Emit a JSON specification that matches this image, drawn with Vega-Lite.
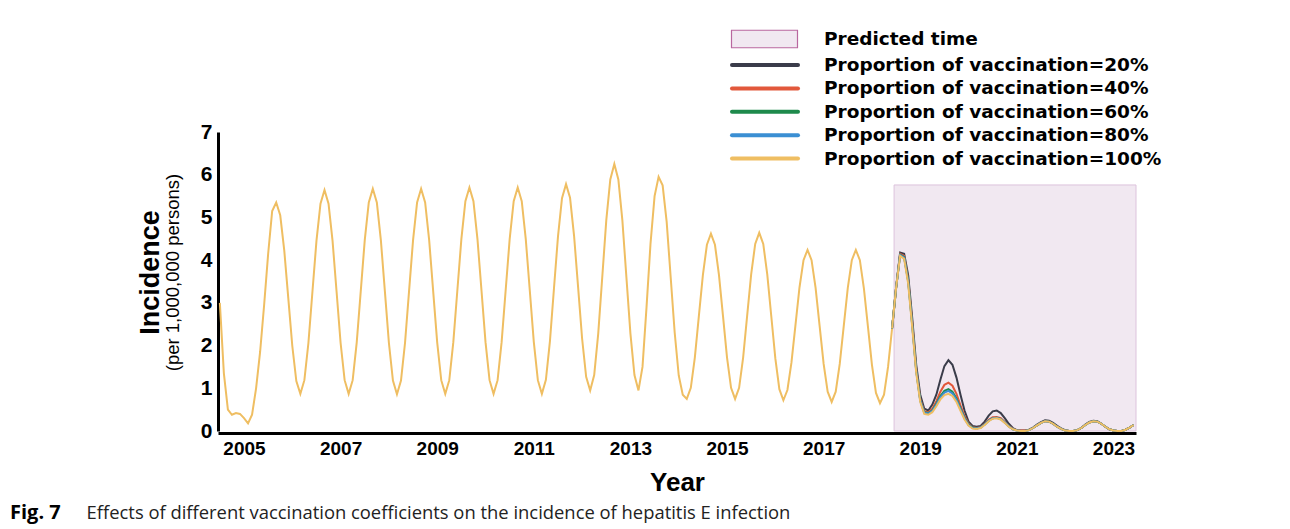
{
 "$schema": "https://vega.github.io/schema/vega-lite/v6.json",
 "width": 918, "height": 299,
 "autosize": {"type": "none"},
 "padding": {"left": 218, "top": 132, "right": 154, "bottom": 98},
 "background": "white",
 "config": {"view": {"stroke": null}, "font": "Liberation Sans"},
 "title": {"text": "Fig. 7", "subtitle": "\u200b\u2003\u2003\u2003\u2003\u2009Effects of different vaccination coefficients on the incidence of hepatitis E infection", "orient": "bottom", "anchor": "start", "frame": "group", "dx": -208, "offset": 8, "font": "Open Sans", "fontWeight": "bold", "fontSize": 20, "color": "black", "subtitleFont": "Open Sans", "subtitleFontSize": 18.4, "subtitleColor": "#222222", "subtitlePadding": -19},
 "datasets": {
  "band": [{"start": 167.5, "end": 227.6, "low": 0, "high": 5.76}],
  "hist": [
   {"i":0,"v":3.0},{"i":1,"v":1.35},{"i":2,"v":0.5},{"i":3,"v":0.38},{"i":4,"v":0.42},{"i":5,"v":0.4},{"i":6,"v":0.3},{"i":7,"v":0.18},{"i":8,"v":0.38},{"i":9,"v":1.0},
   {"i":10,"v":1.85},{"i":11,"v":2.95},{"i":12,"v":4.15},{"i":13,"v":5.15},{"i":14,"v":5.35},{"i":15,"v":5.05},{"i":16,"v":4.23},{"i":17,"v":3.11},{"i":18,"v":1.99},{"i":19,"v":1.17},
   {"i":20,"v":0.87},{"i":21,"v":1.19},{"i":22,"v":2.06},{"i":23,"v":3.26},{"i":24,"v":4.45},{"i":25,"v":5.32},{"i":26,"v":5.64},{"i":27,"v":5.32},{"i":28,"v":4.45},{"i":29,"v":3.26},
   {"i":30,"v":2.06},{"i":31,"v":1.19},{"i":32,"v":0.87},{"i":33,"v":1.19},{"i":34,"v":2.07},{"i":35,"v":3.27},{"i":36,"v":4.47},{"i":37,"v":5.35},{"i":38,"v":5.67},{"i":39,"v":5.35},
   {"i":40,"v":4.47},{"i":41,"v":3.27},{"i":42,"v":2.06},{"i":43,"v":1.18},{"i":44,"v":0.86},{"i":45,"v":1.18},{"i":46,"v":2.06},{"i":47,"v":3.27},{"i":48,"v":4.47},{"i":49,"v":5.35},
   {"i":50,"v":5.67},{"i":51,"v":5.35},{"i":52,"v":4.47},{"i":53,"v":3.27},{"i":54,"v":2.07},{"i":55,"v":1.19},{"i":56,"v":0.87},{"i":57,"v":1.19},{"i":58,"v":2.08},{"i":59,"v":3.29},
   {"i":60,"v":4.49},{"i":61,"v":5.38},{"i":62,"v":5.7},{"i":63,"v":5.38},{"i":64,"v":4.49},{"i":65,"v":3.29},{"i":66,"v":2.08},{"i":67,"v":1.19},{"i":68,"v":0.87},{"i":69,"v":1.19},
   {"i":70,"v":2.08},{"i":71,"v":3.29},{"i":72,"v":4.49},{"i":73,"v":5.38},{"i":74,"v":5.7},{"i":75,"v":5.38},{"i":76,"v":4.49},{"i":77,"v":3.29},{"i":78,"v":2.08},{"i":79,"v":1.19},
   {"i":80,"v":0.87},{"i":81,"v":1.2},{"i":82,"v":2.1},{"i":83,"v":3.33},{"i":84,"v":4.55},{"i":85,"v":5.45},{"i":86,"v":5.78},{"i":87,"v":5.46},{"i":88,"v":4.57},{"i":89,"v":3.37},
   {"i":90,"v":2.16},{"i":91,"v":1.27},{"i":92,"v":0.95},{"i":93,"v":1.31},{"i":94,"v":2.28},{"i":95,"v":3.6},{"i":96,"v":4.93},{"i":97,"v":5.89},{"i":98,"v":6.25},{"i":99,"v":5.89},
   {"i":100,"v":4.93},{"i":101,"v":3.6},{"i":102,"v":2.28},{"i":103,"v":1.31},{"i":104,"v":0.95},{"i":105,"v":1.5},{"i":106,"v":2.9},{"i":107,"v":4.4},{"i":108,"v":5.5},{"i":109,"v":5.95},
   {"i":110,"v":5.75},{"i":111,"v":4.9},{"i":112,"v":3.6},{"i":113,"v":2.3},{"i":114,"v":1.3},{"i":115,"v":0.85},{"i":116,"v":0.75},{"i":117,"v":1.01},{"i":118,"v":1.72},{"i":119,"v":2.69},
   {"i":120,"v":3.65},{"i":121,"v":4.36},{"i":122,"v":4.62},{"i":123,"v":4.36},{"i":124,"v":3.65},{"i":125,"v":2.69},{"i":126,"v":1.72},{"i":127,"v":1.01},{"i":128,"v":0.75},{"i":129,"v":1.01},
   {"i":130,"v":1.72},{"i":131,"v":2.7},{"i":132,"v":3.67},{"i":133,"v":4.38},{"i":134,"v":4.64},{"i":135,"v":4.38},{"i":136,"v":3.66},{"i":137,"v":2.68},{"i":138,"v":1.7},{"i":139,"v":0.98},
   {"i":140,"v":0.72},{"i":141,"v":0.96},{"i":142,"v":1.6},{"i":143,"v":2.48},{"i":144,"v":3.36},{"i":145,"v":4.0},{"i":146,"v":4.24},{"i":147,"v":4.0},{"i":148,"v":3.35},{"i":149,"v":2.46},
   {"i":150,"v":1.57},{"i":151,"v":0.92},{"i":152,"v":0.68},{"i":153,"v":0.92},{"i":154,"v":1.57},{"i":155,"v":2.46},{"i":156,"v":3.35},{"i":157,"v":4.0},{"i":158,"v":4.24},{"i":159,"v":4.0},
   {"i":160,"v":3.34},{"i":161,"v":2.45},{"i":162,"v":1.55},{"i":163,"v":0.89},{"i":164,"v":0.65},{"i":165,"v":0.85},{"i":166,"v":1.5},{"i":167,"v":2.4},{"i":168,"v":3.35}
  ],
  "pred": [
   {"i":167,"p20":2.4,"p40":2.4,"p60":2.4,"p80":2.4,"p100":2.4},
   {"i":168,"p20":3.35,"p40":3.35,"p60":3.35,"p80":3.35,"p100":3.35},
   {"i":169,"p20":4.18,"p40":4.15,"p60":4.13,"p80":4.12,"p100":4.1},
   {"i":170,"p20":4.15,"p40":4.1,"p60":4.07,"p80":4.06,"p100":4.03},
   {"i":171,"p20":3.65,"p40":3.55,"p60":3.52,"p80":3.5,"p100":3.45},
   {"i":172,"p20":2.65,"p40":2.55,"p60":2.5,"p80":2.48,"p100":2.43},
   {"i":173,"p20":1.55,"p40":1.45,"p60":1.42,"p80":1.4,"p100":1.36},
   {"i":174,"p20":0.85,"p40":0.75,"p60":0.72,"p80":0.71,"p100":0.68},
   {"i":175,"p20":0.52,"p40":0.46,"p60":0.44,"p80":0.43,"p100":0.4},
   {"i":176,"p20":0.48,"p40":0.44,"p60":0.42,"p80":0.41,"p100":0.38},
   {"i":177,"p20":0.62,"p40":0.52,"p60":0.48,"p80":0.47,"p100":0.44},
   {"i":178,"p20":0.85,"p40":0.7,"p60":0.64,"p80":0.62,"p100":0.58},
   {"i":179,"p20":1.2,"p40":0.92,"p60":0.82,"p80":0.79,"p100":0.74},
   {"i":180,"p20":1.52,"p40":1.08,"p60":0.94,"p80":0.9,"p100":0.84},
   {"i":181,"p20":1.66,"p40":1.13,"p60":0.98,"p80":0.94,"p100":0.87},
   {"i":182,"p20":1.55,"p40":1.06,"p60":0.92,"p80":0.88,"p100":0.82},
   {"i":183,"p20":1.25,"p40":0.87,"p60":0.76,"p80":0.73,"p100":0.68},
   {"i":184,"p20":0.85,"p40":0.6,"p60":0.53,"p80":0.51,"p100":0.47},
   {"i":185,"p20":0.48,"p40":0.35,"p60":0.31,"p80":0.3,"p100":0.27},
   {"i":186,"p20":0.22,"p40":0.17,"p60":0.15,"p80":0.14,"p100":0.13},
   {"i":187,"p20":0.12,"p40":0.09,"p60":0.08,"p80":0.07,"p100":0.06},
   {"i":188,"p20":0.1,"p40":0.07,"p60":0.06,"p80":0.06,"p100":0.05},
   {"i":189,"p20":0.12,"p40":0.09,"p60":0.08,"p80":0.08,"p100":0.07},
   {"i":190,"p20":0.22,"p40":0.16,"p60":0.15,"p80":0.15,"p100":0.14},
   {"i":191,"p20":0.36,"p40":0.26,"p60":0.24,"p80":0.24,"p100":0.23},
   {"i":192,"p20":0.46,"p40":0.32,"p60":0.3,"p80":0.3,"p100":0.29},
   {"i":193,"p20":0.48,"p40":0.33,"p60":0.31,"p80":0.31,"p100":0.3},
   {"i":194,"p20":0.42,"p40":0.3,"p60":0.28,"p80":0.28,"p100":0.27},
   {"i":195,"p20":0.3,"p40":0.21,"p60":0.2,"p80":0.2,"p100":0.19},
   {"i":196,"p20":0.17,"p40":0.12,"p60":0.11,"p80":0.11,"p100":0.1},
   {"i":197,"p20":0.07,"p40":0.05,"p60":0.04,"p80":0.04,"p100":0.04},
   {"i":198,"p20":0.02,"p40":0.02,"p60":0.01,"p80":0.01,"p100":0.01},
   {"i":199,"p20":0.01,"p40":0.01,"p60":0.0,"p80":0.0,"p100":0.0},
   {"i":200,"p20":0.01,"p40":0.01,"p60":0.0,"p80":0.0,"p100":0.0},
   {"i":201,"p20":0.03,"p40":0.02,"p60":0.02,"p80":0.02,"p100":0.02},
   {"i":202,"p20":0.08,"p40":0.07,"p60":0.07,"p80":0.07,"p100":0.07},
   {"i":203,"p20":0.15,"p40":0.13,"p60":0.13,"p80":0.13,"p100":0.13},
   {"i":204,"p20":0.21,"p40":0.19,"p60":0.19,"p80":0.19,"p100":0.19},
   {"i":205,"p20":0.25,"p40":0.23,"p60":0.23,"p80":0.23,"p100":0.23},
   {"i":206,"p20":0.24,"p40":0.22,"p60":0.22,"p80":0.22,"p100":0.22},
   {"i":207,"p20":0.19,"p40":0.17,"p60":0.17,"p80":0.17,"p100":0.17},
   {"i":208,"p20":0.12,"p40":0.1,"p60":0.1,"p80":0.1,"p100":0.1},
   {"i":209,"p20":0.06,"p40":0.05,"p60":0.05,"p80":0.05,"p100":0.05},
   {"i":210,"p20":0.02,"p40":0.01,"p60":0.01,"p80":0.01,"p100":0.01},
   {"i":211,"p20":0.0,"p40":0.0,"p60":0.0,"p80":0.0,"p100":0.0},
   {"i":212,"p20":0.0,"p40":0.0,"p60":0.0,"p80":0.0,"p100":0.0},
   {"i":213,"p20":0.02,"p40":0.02,"p60":0.02,"p80":0.02,"p100":0.02},
   {"i":214,"p20":0.07,"p40":0.07,"p60":0.07,"p80":0.07,"p100":0.07},
   {"i":215,"p20":0.15,"p40":0.14,"p60":0.14,"p80":0.14,"p100":0.14},
   {"i":216,"p20":0.21,"p40":0.2,"p60":0.2,"p80":0.2,"p100":0.2},
   {"i":217,"p20":0.24,"p40":0.23,"p60":0.23,"p80":0.23,"p100":0.23},
   {"i":218,"p20":0.23,"p40":0.22,"p60":0.22,"p80":0.22,"p100":0.22},
   {"i":219,"p20":0.17,"p40":0.17,"p60":0.17,"p80":0.17,"p100":0.17},
   {"i":220,"p20":0.1,"p40":0.1,"p60":0.1,"p80":0.1,"p100":0.1},
   {"i":221,"p20":0.04,"p40":0.04,"p60":0.04,"p80":0.04,"p100":0.04},
   {"i":222,"p20":0.01,"p40":0.01,"p60":0.01,"p80":0.01,"p100":0.01},
   {"i":223,"p20":0.0,"p40":0.0,"p60":0.0,"p80":0.0,"p100":0.0},
   {"i":224,"p20":0.0,"p40":0.0,"p60":0.0,"p80":0.0,"p100":0.0},
   {"i":225,"p20":0.03,"p40":0.03,"p60":0.03,"p80":0.03,"p100":0.03},
   {"i":226,"p20":0.08,"p40":0.08,"p60":0.08,"p80":0.08,"p100":0.08},
   {"i":227,"p20":0.14,"p40":0.14,"p60":0.14,"p80":0.14,"p100":0.14}
  ]
 },
 "layer": [
  {
   "data": {"name": "band"},
   "mark": {"type": "rect", "stroke": "#dcc3dc", "strokeWidth": 1, "opacity": 1},
   "encoding": {
    "x": {"field": "start", "type": "quantitative", "scale": {"domain": [-0.46, 227.6], "nice": false, "zero": false},
     "axis": {"title": "Year", "values": [6, 30, 54, 78, 102, 126, 150, 174, 198, 222], "labelExpr": "2005 + (datum.value - 6) / 12", "ticks": false, "grid": false, "domainColor": "black", "domainWidth": 3, "offset": 2, "labelFont": "Liberation Sans", "labelFontWeight": "bold", "labelFontSize": 19, "labelColor": "black", "labelPadding": 6, "labelFlush": false, "labelOverlap": false, "titleFont": "Liberation Sans", "titleFontWeight": "bold", "titleFontSize": 26, "titleColor": "black", "titleX": 459, "titleY": 57, "titleAlign": "center", "titleBaseline": "alphabetic"}},
    "x2": {"field": "end"},
    "y": {"field": "low", "type": "quantitative", "scale": {"domain": [0, 7], "nice": false},
     "axis": {"title": "(per 1,000,000 persons)", "values": [0, 1, 2, 3, 4, 5, 6, 7], "ticks": false, "grid": false, "domainColor": "black", "domainWidth": 3, "labelFont": "Liberation Sans", "labelFontWeight": "bold", "labelFontSize": 21, "labelColor": "black", "labelPadding": 6, "titleFont": "Liberation Sans", "titleFontWeight": "normal", "titleFontSize": 18.5, "titleColor": "black", "titleX": -40, "titleY": 140, "titleAngle": 270, "titleAlign": "center", "titleBaseline": "alphabetic"}},
    "y2": {"field": "high"},
    "fill": {"datum": "Predicted time", "type": "nominal", "scale": {"range": ["#f1e8f1"]},
     "legend": {"title": null, "orient": "none", "legendX": 537.25, "legendY": -102.25, "padding": 0, "symbolType": "M-6.6,-1.75H6.6V1.75H-6.6Z", "symbolSize": 100, "symbolStrokeColor": "#b9679f", "symbolStrokeWidth": 1.2, "symbolOpacity": 1, "labelFont": "DejaVu Sans", "labelFontWeight": "bold", "labelFontSize": 18.5, "labelColor": "black", "labelOffset": 50.25, "labelLimit": 600}}
   }
  },
  {
   "data": {"name": "hist"},
   "mark": {"type": "line", "strokeWidth": 2},
   "encoding": {
    "x": {"field": "i", "type": "quantitative"},
    "y": {"field": "v", "type": "quantitative", "axis": null},
    "color": {"datum": "p100", "type": "nominal"}
   }
  },
  {
   "data": {"name": "pred"},
   "transform": [{"fold": ["p20", "p40", "p60", "p80", "p100"], "as": ["s", "v"]}],
   "mark": {"type": "line", "strokeWidth": 2},
   "encoding": {
    "x": {"field": "i", "type": "quantitative"},
    "y": {"field": "v", "type": "quantitative",
     "axis": {"orient": "left", "title": "Incidence", "labels": false, "ticks": false, "domain": false, "grid": false, "titleFont": "Liberation Sans", "titleFontWeight": "bold", "titleFontSize": 27, "titleColor": "black", "titleX": -60, "titleY": 140, "titleAngle": 270, "titleAlign": "center", "titleBaseline": "alphabetic"}},
    "color": {"field": "s", "type": "nominal",
     "scale": {"domain": ["p20", "p40", "p60", "p80", "p100"], "range": ["#3a3c4a", "#e2583b", "#1e8a4c", "#3b8fd3", "#efbe62"]},
     "legend": {"title": null, "orient": "none", "legendX": 537.75, "legendY": -76.25, "padding": 0, "symbolType": "M-6.6,0H6.6", "symbolSize": 100, "symbolStrokeWidth": 4, "labelFont": "DejaVu Sans", "labelFontWeight": "bold", "labelFontSize": 18.5, "labelColor": "black", "labelOffset": 49.75, "labelLimit": 600, "rowPadding": 4.4, "labelExpr": "'Proportion of vaccination=' + slice(datum.label, 1) + '%'", "encode": {"symbols": {"update": {"strokeCap": {"value": "round"}}}}}}
   }
  }
 ],
 "resolve": {"axis": {"y": "independent"}}
}
